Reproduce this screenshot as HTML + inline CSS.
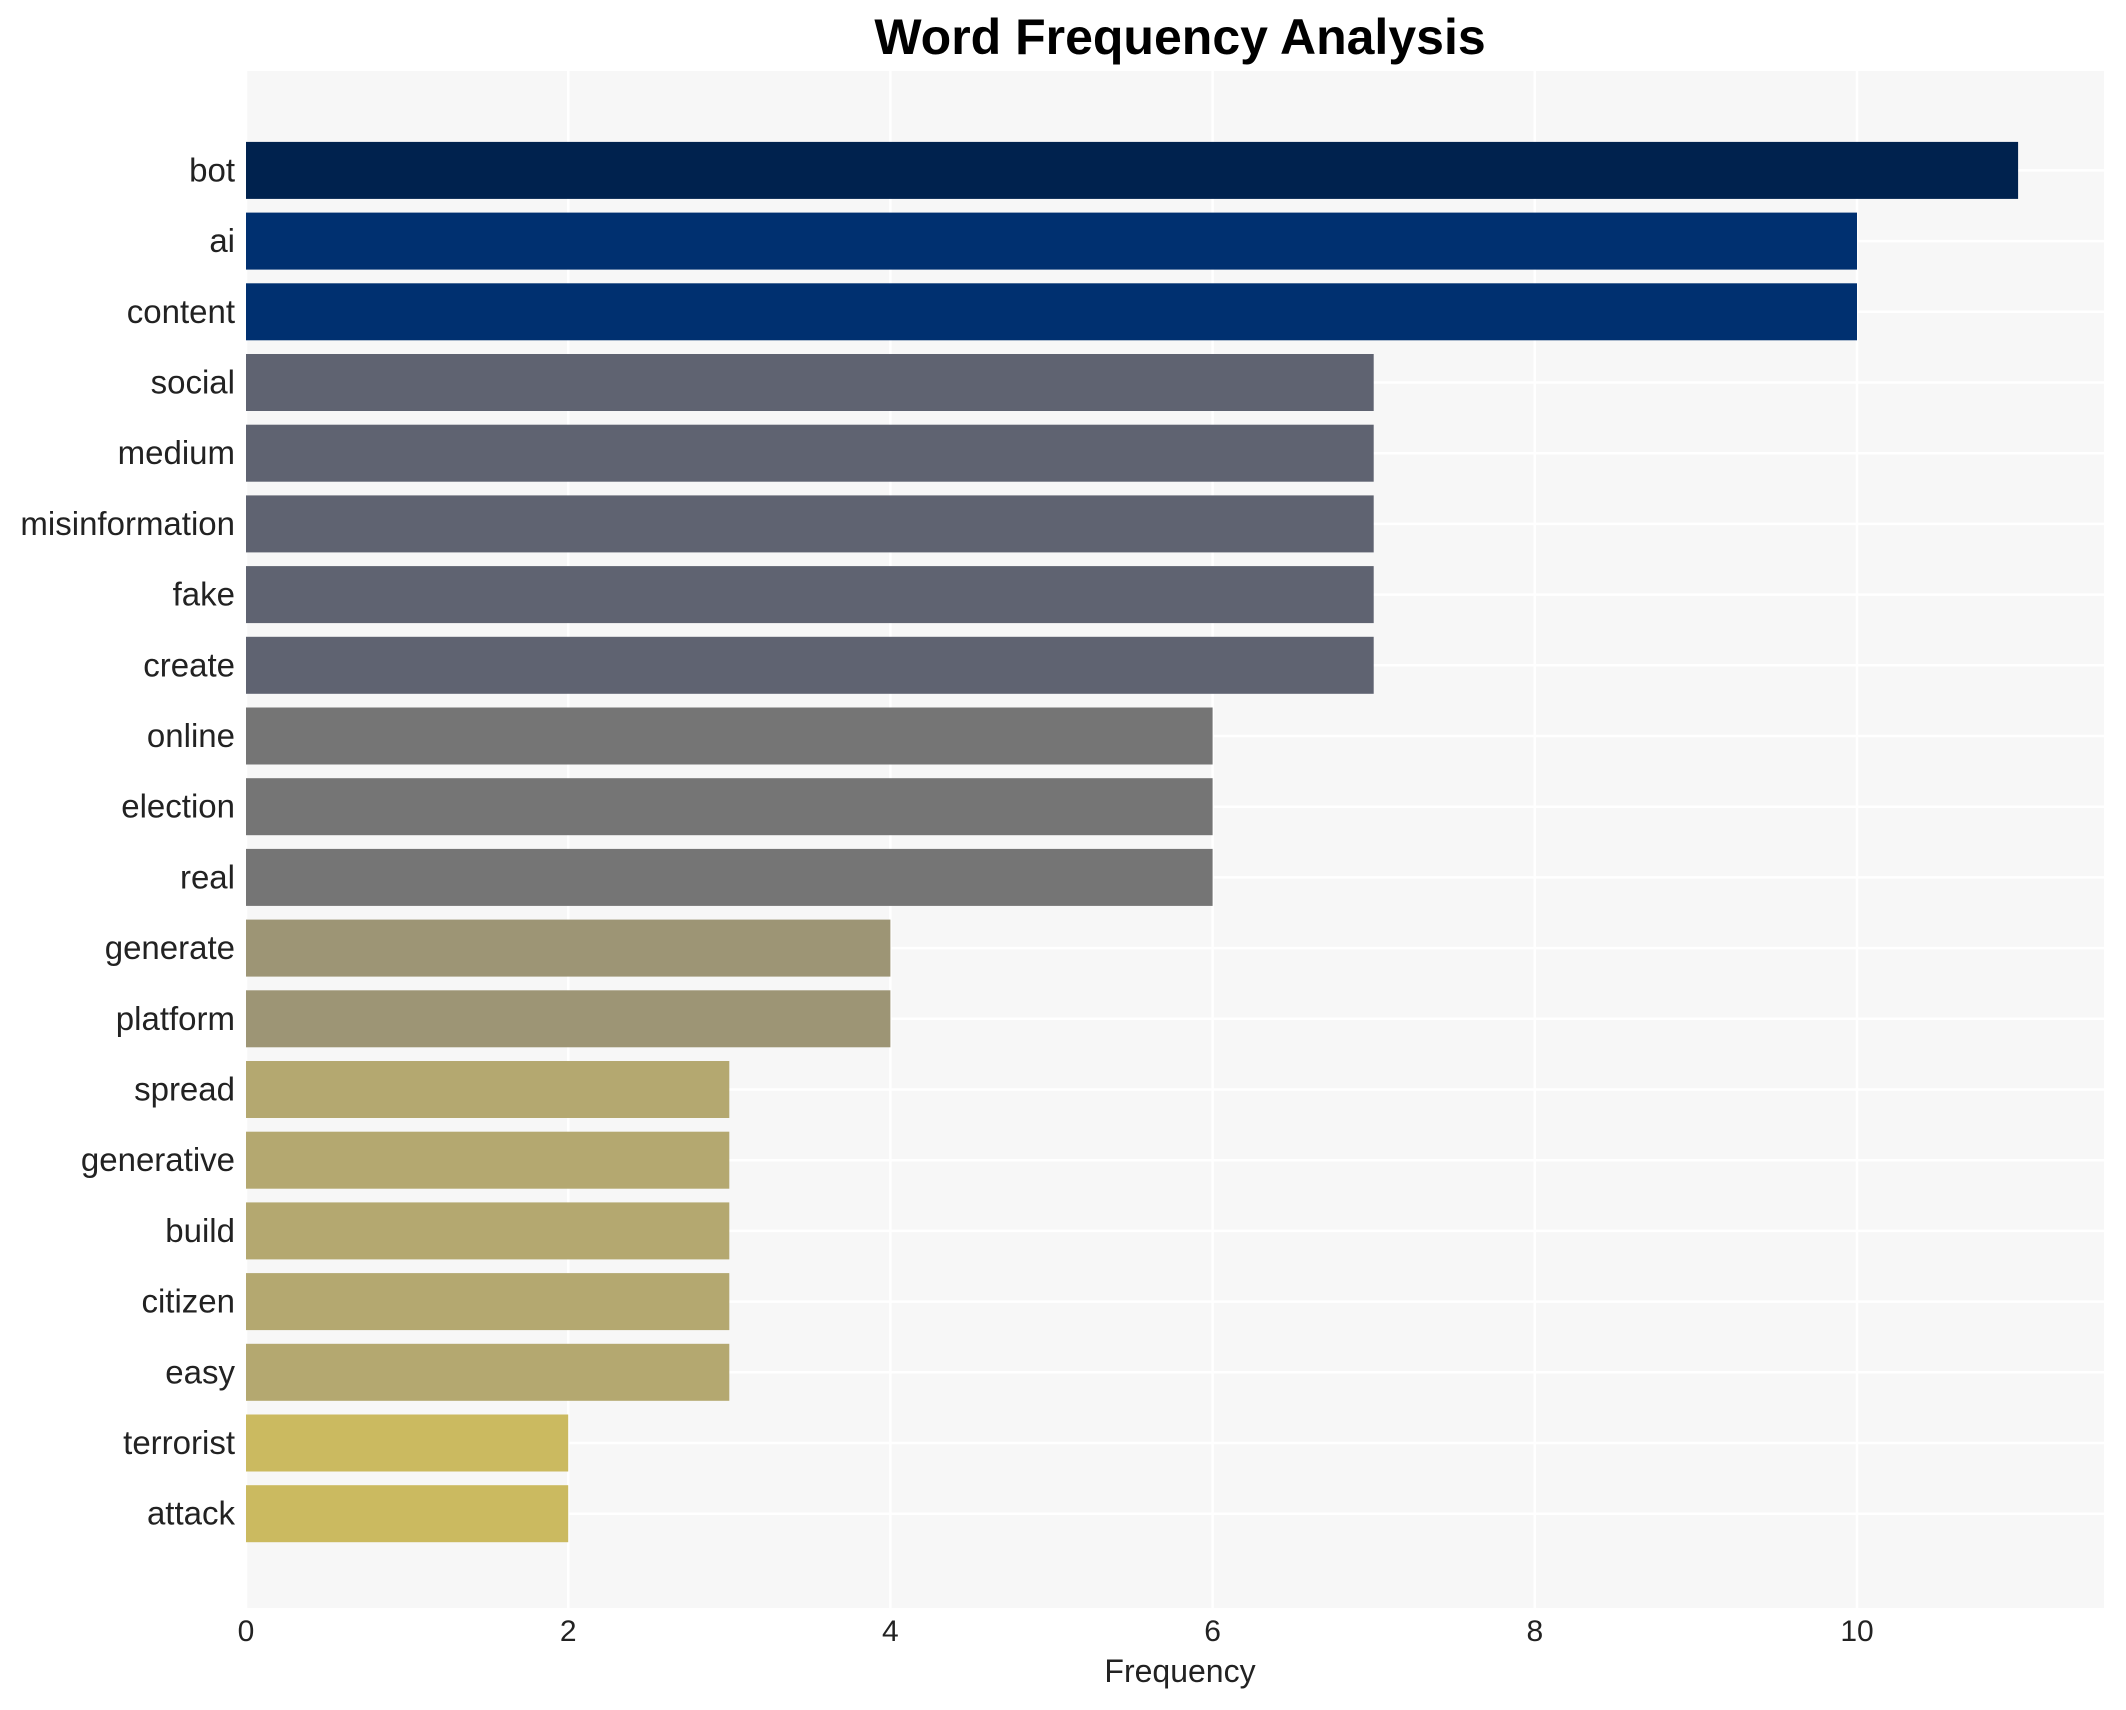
<!DOCTYPE html>
<html><head><meta charset="utf-8"><style>
html,body{margin:0;padding:0;background:#fff;}
svg{display:block;font-family:"Liberation Sans",Arial,sans-serif;}
</style></head><body>
<svg id="chart" width="2126" height="1710" viewBox="0 0 2126 1710">
<text x="1180" y="54" text-anchor="middle" font-size="50" font-weight="bold" fill="#000">Word Frequency Analysis</text>
<rect x="246" y="71" width="1858" height="1537" fill="#f7f7f7"/>
<g id="grid"></g><g id="bars"></g><g id="ylabels"></g><g id="xticks"></g>
<text x="1180" y="1682" text-anchor="middle" font-size="32" fill="#222">Frequency</text>
</svg>
<script>
const words = ["bot","ai","content","social","medium","misinformation","fake","create","online","election","real","generate","platform","spread","generative","build","citizen","easy","terrorist","attack"];
const freqs = [11,10,10,7,7,7,7,7,6,6,6,4,4,3,3,3,3,3,2,2];
const colors = ["#00224e","#003070","#003070","#5f6371","#5f6371","#5f6371","#5f6371","#5f6371","#757575","#757575","#757575","#9d9575","#9d9575","#b4a870","#b4a870","#b4a870","#b4a870","#b4a870","#cbba60","#cbba60"];
const xTicks = [0,2,4,6,8,10];
const NS="http://www.w3.org/2000/svg";
const x0=246, unit=161.1, yTop=170.4, step=70.7, bh=57, plotTop=71, plotBot=1608, plotR=2104;
const xs=v=>x0+v*unit, ys=i=>yTop+i*step;
function mk(t,a,p){const e=document.createElementNS(NS,t);for(const k in a)e.setAttribute(k,a[k]);p.appendChild(e);return e;}
const grid=document.getElementById('grid');
xTicks.forEach(t=>{const l=mk('line',{x1:xs(t),x2:xs(t),y1:plotTop,y2:plotBot,stroke:'#fff','stroke-width':2.5},grid);

});
words.forEach((w,i)=>{const l=mk('line',{x1:x0,x2:plotR,y1:ys(i),y2:ys(i),stroke:'#fff','stroke-width':2.5},grid);

});
const bars=document.getElementById('bars'), yl=document.getElementById('ylabels'), xt=document.getElementById('xticks');
words.forEach((w,i)=>{
const r=mk('rect',{x:xs(0),y:ys(i)-bh/2,width:xs(freqs[i])-xs(0),height:bh,fill:colors[i]},bars);


const t=mk('text',{x:235,y:ys(i)+11,'text-anchor':'end','font-size':33,fill:'#222'},yl);t.textContent=w;


});
xTicks.forEach(v=>{const t=mk('text',{x:xs(v),y:1641,'text-anchor':'middle','font-size':30,fill:'#222'},xt);t.textContent=v;

});
</script>
</body></html>
